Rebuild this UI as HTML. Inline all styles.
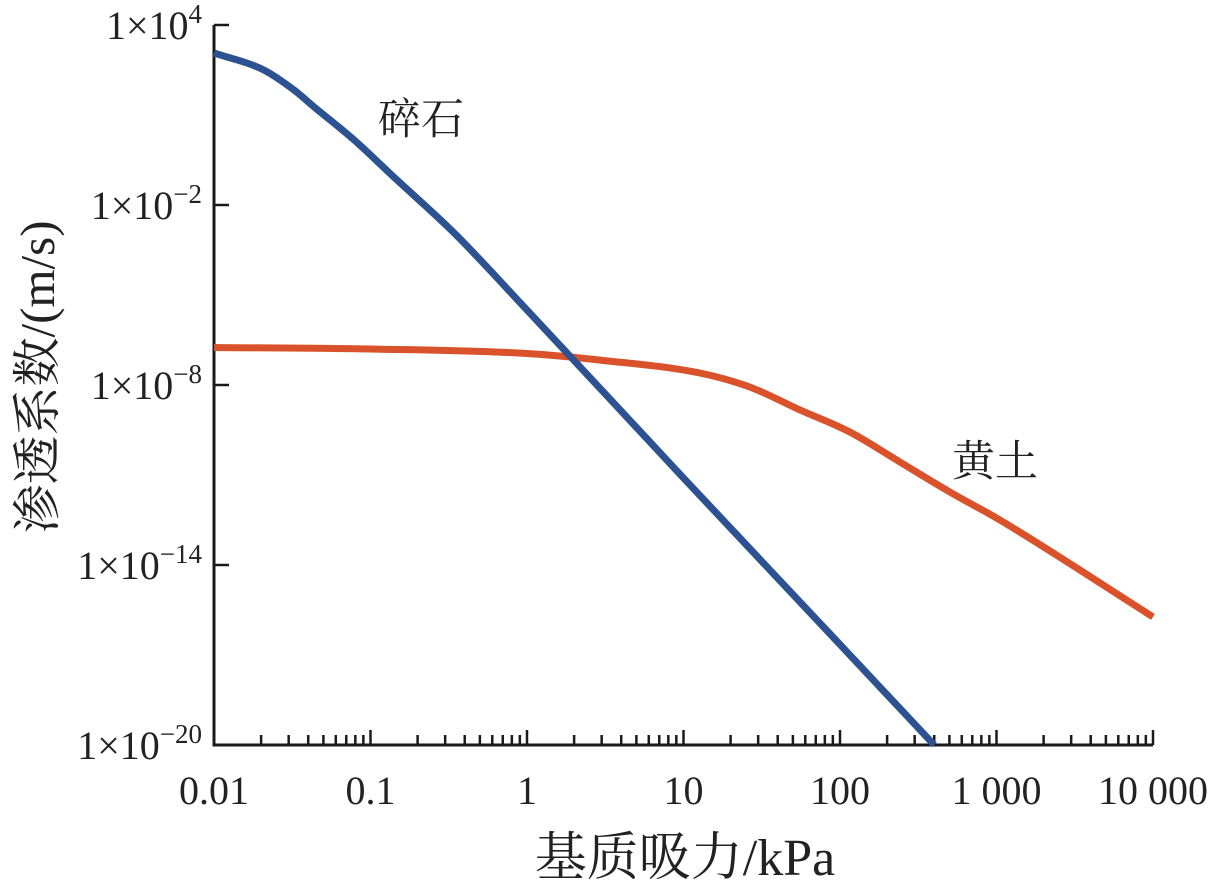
<!DOCTYPE html>
<html><head><meta charset="utf-8"><style>
html,body{margin:0;padding:0;background:#fff;}
svg{display:block;}
text{font-family:"Liberation Serif","Noto Serif CJK SC",serif;fill:#222;}
</style></head><body>
<svg id="chart" width="1230" height="890" viewBox="0 0 1230 890">
<g id="axes"></g><g id="series"></g><g id="labels"></g>
</svg>
<script>
const xDecades = [0.01, 0.1, 1, 10, 100, 1000, 10000];
const xTickLabels = ["0.01", "0.1", "1", "10", "100", "1 000", "10 000"];
const yExps = [4, -2, -8, -14, -20];
const yTickLabels = ["4", "−2", "−8", "−14", "−20"];
const gravelX = [0.01, 0.0208, 0.0325, 0.0436, 0.0785, 0.141, 0.342, 1, 10, 100, 400];
const gravelLogK = [3.07, 2.5, 1.83, 1.27, 0.17, -1.07, -2.93, -5.5, -11.1, -16.65, -20.0];
const loessX = [0.01, 0.1, 1, 2.93, 12.7, 26.6, 55.5, 116, 242, 505, 1052, 10000];
const loessLogK = [-6.75, -6.8, -6.95, -7.17, -7.6, -8.07, -8.83, -9.57, -10.57, -11.57, -12.5, -15.73];

const NS = "http://www.w3.org/2000/svg";
const X0 = 214, XD = 156.5, Y0 = 25, YD = 30;
function xs(v){ return X0 + (Math.log10(v) + 2) * XD; }
function ys(e){ return Y0 + (4 - e) * YD; }
function mk(tag, attrs, parent){
  const el = document.createElementNS(NS, tag);
  for (const k in attrs) el.setAttribute(k, attrs[k]);
  parent.appendChild(el); return el;
}
const axes = document.getElementById("axes");
const series = document.getElementById("series");
const labels = document.getElementById("labels");
const yBottom = ys(-20), xRight = xs(10000);

let ax = mk("path", {d:`M${X0},${ys(4)} V${yBottom} H${xRight}`, stroke:"#1a1a1a", "stroke-width":3, fill:"none"}, axes);



xDecades.forEach((d, i) => {
  if (i > 0) {
    let t = mk("line", {x1:xs(d), x2:xs(d), y1:yBottom, y2:yBottom-15, stroke:"#1a1a1a", "stroke-width":2.5}, axes);
    
    
  }
  if (i < xDecades.length - 1) {
    for (let m = 2; m <= 9; m++) {
      let t = mk("line", {x1:xs(d*m), x2:xs(d*m), y1:yBottom, y2:yBottom-10, stroke:"#1a1a1a", "stroke-width":2.5}, axes);
      
      
    }
  }
  let lb = mk("text", {x:xs(d), y:804, "text-anchor":"middle", "font-size":40}, labels);
  lb.textContent = xTickLabels[i];
  
  
});

yExps.forEach((e, i) => {
  let t = mk("line", {x1:X0, x2:X0+15, y1:ys(e), y2:ys(e), stroke:"#1a1a1a", "stroke-width":2.5}, axes);
  
  
  let lb = mk("text", {x:202, y:ys(e)+14, "text-anchor":"end", "font-size":40}, labels);
  
  
  const base = document.createElementNS(NS, "tspan"); base.textContent = "1×10"; lb.appendChild(base);
  const sup = document.createElementNS(NS, "tspan"); sup.setAttribute("font-size", 27); sup.setAttribute("dy", -16); sup.textContent = yTickLabels[i]; lb.appendChild(sup);
});

function drawLine(xsArr, ysArr, color, name){
  const X = xsArr.map(v => Math.log10(v)), Y = ysArr.slice(), n = X.length;
  const dlt = [], m = [];
  for (let i = 0; i < n-1; i++) dlt.push((Y[i+1]-Y[i])/(X[i+1]-X[i]));
  m[0] = dlt[0]; m[n-1] = dlt[n-2];
  for (let i = 1; i < n-1; i++) m[i] = (dlt[i-1]*dlt[i] <= 0) ? 0 : (dlt[i-1]+dlt[i])/2;
  for (let i = 0; i < n-1; i++) {
    if (dlt[i] === 0) { m[i] = m[i+1] = 0; continue; }
    const a = m[i]/dlt[i], b = m[i+1]/dlt[i], s = a*a + b*b;
    if (s > 9) { const t = 3/Math.sqrt(s); m[i] = t*a*dlt[i]; m[i+1] = t*b*dlt[i]; }
  }
  const P = (lx, ly) => [X0 + (lx + 2) * XD, Y0 + (4 - ly) * YD];
  let p0 = P(X[0], Y[0]);
  let d = `M${p0[0]},${p0[1]}`;
  for (let i = 0; i < n-1; i++) {
    const h = X[i+1]-X[i];
    const c1 = P(X[i]+h/3, Y[i]+m[i]*h/3);
    const c2 = P(X[i+1]-h/3, Y[i+1]-m[i+1]*h/3);
    const e = P(X[i+1], Y[i+1]);
    d += ` C${c1[0]},${c1[1]} ${c2[0]},${c2[1]} ${e[0]},${e[1]}`;
  }
  let p = mk("path", {d, stroke:color, "stroke-width":7, fill:"none"}, series);
  
  
}
drawLine(loessX, loessLogK, "#d9522b", "loess-line");
drawLine(gravelX, gravelLogK, "#2d5291", "gravel-line");

const extra = [
  {t:"碎石", x:378, y:134, s:43, n:"gravel-label"},
  {t:"黄土", x:952, y:476, s:43, n:"loess-label"},
  {t:"基质吸力/kPa", x:685, y:875, s:52, n:"x-axis-title", a:"middle"}
];
extra.forEach(o => {
  let lb = mk("text", {x:o.x, y:o.y, "font-size":o.s, "text-anchor":o.a||"start"}, labels);
  lb.textContent = o.t;
  
  
});
let yt = mk("text", {x:0, y:0, "font-size":49, "text-anchor":"middle", transform:"translate(54,377) rotate(-90)"}, labels);
yt.textContent = "渗透系数/(m/s)";


</script>
</body></html>
